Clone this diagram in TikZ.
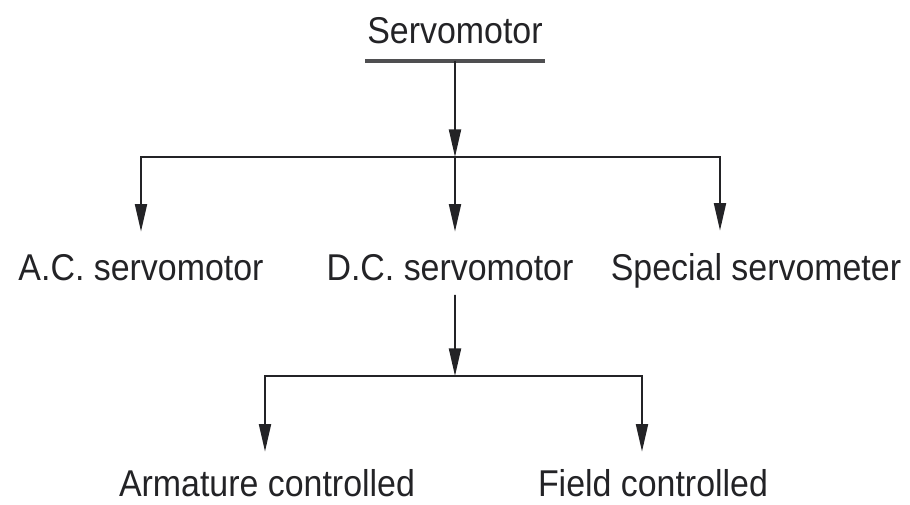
\documentclass[tikz,border=0pt]{standalone}
\usepackage{fontspec}
\setmainfont{Liberation Sans}
\usetikzlibrary{arrows.meta,positioning}
\definecolor{ink}{RGB}{35,35,38}
\tikzset{
  >={Triangle[length=5.5mm,width=2.4mm]},
  item/.style={font=\fontsize{19.3}{24}\selectfont,text=ink,inner sep=0pt,anchor=base,yscale=1.1},
  link/.style={->,draw=ink,line width=1.1pt},
  drop/.style={link,shorten >=#1},
  drop/.default=4.6mm,
  underline/.style={draw=ink!80,line width=2.2pt},
}
\begin{document}
\begin{tikzpicture}
  \useasboundingbox (0,0) rectangle (18.2,10.1);
  % top
  \node[item] (servo) at (9.1,9.22) {Servomotor};
  \coordinate (ul) at ([yshift=-3.4mm]servo.base);
  \draw[underline] ([xshift=-0.4mm,yshift=-3.4mm]servo.base west) -- ([xshift=0.4mm,yshift=-3.4mm]servo.base east);
  % second row
  \node[item] (ac) at (2.82,4.48) {A.C. servomotor};
  \node[item] (dc) at (9.0,4.48) {D.C. servomotor};
  \node[item] (special) at (15.12,4.48) {Special servometer};
  \coordinate (bar1) at (9.1,6.96);
  \draw[link] (ul) -- (bar1);
  \draw[drop] (bar1) -| (ac.north);
  \draw[drop] (bar1) -- ([xshift=1mm]dc.north);
  \draw[drop] (bar1) -| ([xshift=-7.2mm]special.north);
  % third row
  \node[item] (arm) at (5.34,0.16) {Armature controlled};
  \node[item] (field) at (13.06,0.16) {Field controlled};
  \coordinate (bar2) at (9.1,2.58);
  \draw[link,shorten <=2.8mm] ([xshift=1mm]dc.base) -- (bar2);
  \draw[drop=3.6mm] (bar2) -| ([xshift=-0.4mm]arm.north);
  \draw[drop=3.6mm] (bar2) -| ([xshift=-2.2mm]field.north);
\end{tikzpicture}
\end{document}
